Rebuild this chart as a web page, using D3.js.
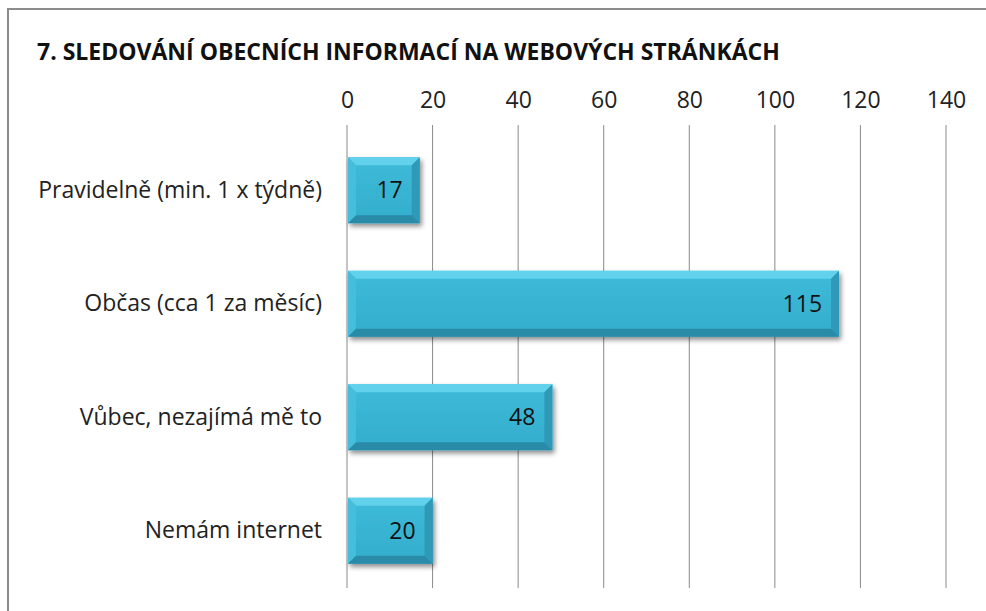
<!DOCTYPE html>
<html>
<head>
<meta charset="utf-8">
<script src="https://cdn.jsdelivr.net/npm/d3@7"></script>
<style>
  body { margin: 0; background: #fff; }
  text { font-family: 'Open Sans', Lato, sans-serif; }
</style>
</head>
<body>
<div id="chart"></div>
<script>
let categories = [
  'Pravidelně (min. 1 x týdně)',
  'Občas (cca 1 za měsíc)',
  'Vůbec, nezajímá mě to',
  'Nemám internet'
]
let values = [17, 115, 48, 20]
let ticks = [0, 20, 40, 60, 80, 100, 120, 140]
let title = '7. SLEDOVÁNÍ OBECNÍCH INFORMACÍ NA WEBOVÝCH STRÁNKÁCH'

let margin = { top: 125, left: 347, right: 40, bottom: 23 }
let width = 986 - margin.left - margin.right
let height = 611 - margin.top - margin.bottom

let root = d3
  .select('#chart')
  .append('svg')
  .attr('width', 986)
  .attr('height', 611)

// outer frame
root
  .append('rect')
  .attr('x', 8)
  .attr('y', 9)
  .attr('width', 1000)
  .attr('height', 700)
  .attr('fill', 'none')
  .attr('stroke', '#8c8c8c')
  .attr('stroke-width', 2)

root
  .append('text')
  .attr('x', 37)
  .attr('y', 60)
  .attr('font-size', 23)
  .attr('font-weight', 'bold')
  .attr('fill', '#111')
  .text(title)

let defs = root.append('defs')
let face = defs
  .append('linearGradient')
  .attr('id', 'face')
  .attr('x1', 0).attr('y1', 0).attr('x2', 0).attr('y2', 1)
face.append('stop').attr('offset', '0%').attr('stop-color', '#3dbbd9')
face.append('stop').attr('offset', '100%').attr('stop-color', '#34adcc')

let shadow = defs.append('filter').attr('id', 'shadow')
  .attr('x', '-10%').attr('y', '-10%').attr('width', '130%').attr('height', '150%')
shadow.append('feGaussianBlur').attr('in', 'SourceAlpha').attr('stdDeviation', 2.5)
shadow.append('feOffset').attr('dx', 2).attr('dy', 3).attr('result', 'b')
shadow.append('feComponentTransfer').append('feFuncA').attr('type', 'linear').attr('slope', 0.45)
let merge = shadow.append('feMerge')
merge.append('feMergeNode')
merge.append('feMergeNode').attr('in', 'SourceGraphic')

let svg = root
  .append('g')
  .attr('transform', `translate(${margin.left}, ${margin.top})`)

let xPositionScale = d3.scaleLinear().domain([0, 140]).range([0, 599])
let yPositionScale = d3
  .scaleBand()
  .domain(categories)
  .range([4, height + 4])
  .paddingInner(0.42)
  .paddingOuter(0.25)

// gridlines
svg
  .selectAll('.grid')
  .data(ticks)
  .enter()
  .append('line')
  .attr('x1', d => xPositionScale(d))
  .attr('x2', d => xPositionScale(d))
  .attr('y1', 0)
  .attr('y2', height)
  .attr('stroke', '#8a8a8a')
  .attr('stroke-width', 1)

// top axis labels
let xAxis = d3.axisTop(xPositionScale).tickValues(ticks).tickSize(0).tickPadding(17)
svg
  .append('g')
  .attr('class', 'x-axis')
  .call(xAxis)
  .call(g => g.select('.domain').remove())
  .selectAll('text')
  .attr('font-size', 23)
  .attr('fill', '#222')
  .style('font-family', "'Open Sans', Lato, sans-serif")

let yAxis = d3.axisLeft(yPositionScale).tickSize(0).tickPadding(25)
svg
  .append('g')
  .attr('class', 'y-axis')
  .call(yAxis)
  .call(g => g.select('.domain').remove())
  .selectAll('text')
  .attr('font-size', 23)
  .attr('fill', '#222')
  .style('font-family', "'Open Sans', Lato, sans-serif")

let bw = 8
let bars = svg
  .selectAll('.bar')
  .data(categories)
  .enter()
  .append('g')
  .attr('class', 'bar')
  .attr('filter', 'url(#shadow)')

bars.each(function (d, i) {
  let g = d3.select(this)
  let x0 = xPositionScale(0) + 1
  let x1 = xPositionScale(values[i])
  let y0 = yPositionScale(d)
  let y1 = y0 + yPositionScale.bandwidth()
  g.append('rect')
    .attr('x', x0).attr('y', y0)
    .attr('width', x1 - x0).attr('height', y1 - y0)
    .attr('fill', 'url(#face)')
  // top bevel
  g.append('polygon')
    .attr('points', [[x0, y0], [x1, y0], [x1 - bw, y0 + bw], [x0 + bw, y0 + bw]].join(' '))
    .attr('fill', '#62d2ec')
  // left bevel
  g.append('polygon')
    .attr('points', [[x0, y0], [x0 + bw, y0 + bw], [x0 + bw, y1 - bw], [x0, y1]].join(' '))
    .attr('fill', '#44bedc')
  // right bevel
  g.append('polygon')
    .attr('points', [[x1, y0], [x1, y1], [x1 - bw, y1 - bw], [x1 - bw, y0 + bw]].join(' '))
    .attr('fill', '#2d9ab8')
  // bottom bevel
  g.append('polygon')
    .attr('points', [[x0, y1], [x1, y1], [x1 - bw, y1 - bw], [x0 + bw, y1 - bw]].join(' '))
    .attr('fill', '#2a8ba8')
})

svg
  .selectAll('.value-label')
  .data(categories)
  .enter()
  .append('text')
  .attr('class', 'value-label')
  .attr('x', (d, i) => xPositionScale(values[i]) - 17)
  .attr('y', d => yPositionScale(d) + yPositionScale.bandwidth() / 2)
  .attr('dy', '0.35em')
  .attr('text-anchor', 'end')
  .attr('font-size', 23)
  .attr('fill', '#111')
  .text((d, i) => values[i])
</script>
</body>
</html>
